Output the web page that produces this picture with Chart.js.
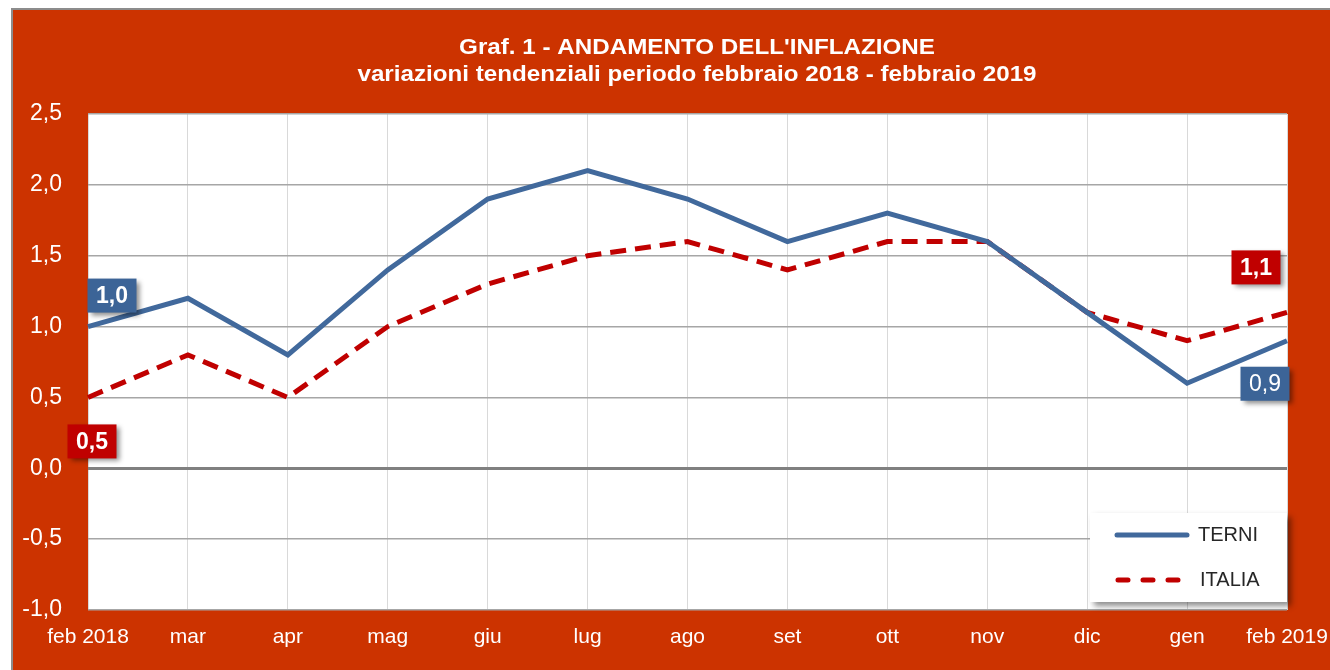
<!DOCTYPE html>
<html>
<head>
<meta charset="utf-8">
<script src="https://cdn.jsdelivr.net/npm/chart.js@4.4.0/dist/chart.umd.min.js"></script>
<style>
    html, body { margin: 0; padding: 0; background: #fff; }
    #wrap { width: 1330px; height: 670px; }
</style>
</head>
<body>
<div id="wrap"><canvas id="inflChart" width="1330" height="670"></canvas></div>
<script>
// Dati
const mesi = ['feb 2018', 'mar', 'apr', 'mag', 'giu', 'lug', 'ago', 'set', 'ott', 'nov', 'dic', 'gen', 'feb 2019'];
const terni = [1.0, 1.2, 0.8, 1.4, 1.9, 2.1, 1.9, 1.6, 1.8, 1.6, 1.1, 0.6, 0.9];
const italia = [0.5, 0.8, 0.5, 1.0, 1.3, 1.5, 1.6, 1.4, 1.6, 1.6, 1.1, 0.9, 1.1];
const yTicks = [-1.0, -0.5, 0.0, 0.5, 1.0, 1.5, 2.0, 2.5];
const titolo = ["Graf. 1 - ANDAMENTO DELL'INFLAZIONE", 'variazioni tendenziali periodo febbraio 2018 - febbraio 2019'];

const BLU = '#41699C';
const ROSSO = '#C00000';
const SFONDO = '#CC3300';
const FONT = '"Liberation Sans", Arial, sans-serif';

function fmt(v) {
    return v.toFixed(1).replace('.', ',');
}

// sfondo, bordo e area bianca
const sfondoPlugin = {
    id: 'sfondo',
    beforeDraw(chart) {
        const ctx = chart.ctx;
        const a = chart.chartArea;
        ctx.save();
        ctx.fillStyle = '#fff';
        ctx.fillRect(0, 0, chart.width, chart.height);
        ctx.fillStyle = '#8c8c8c';
        ctx.fillRect(11, 8, chart.width - 11, chart.height - 8);
        ctx.fillStyle = SFONDO;
        ctx.fillRect(13, 10, chart.width - 13, chart.height - 10);
        ctx.fillStyle = '#fff';
        ctx.fillRect(a.left, a.top, a.right - a.left, a.bottom - a.top);

        // titolo (leggermente allargato in orizzontale)
        ctx.fillStyle = '#fff';
        ctx.font = 'bold 22px ' + FONT;
        ctx.textAlign = 'center';
        ctx.textBaseline = 'middle';
        ctx.translate(697, 0);
        ctx.scale(1.1, 1);
        ctx.fillText(titolo[0], 0, 48);
        ctx.fillText(titolo[1], 0, 75);
        ctx.restore();
    }
};

// etichette dei valori (primo e ultimo punto)
const etichette = [
    { ds: 0, idx: 0, dx: 24, dy: -31, colore: '#3C6497', bold: true },
    { ds: 1, idx: 0, dx: 4, dy: 44, colore: ROSSO, bold: true },
    { ds: 1, idx: 12, dx: -31, dy: -45, colore: ROSSO, bold: true },
    { ds: 0, idx: 12, dx: -22, dy: 43, colore: '#3C6497', bold: false }
];

const etichettePlugin = {
    id: 'etichette',
    afterDatasetsDraw(chart) {
        const ctx = chart.ctx;
        etichette.forEach(e => {
            const pt = chart.getDatasetMeta(e.ds).data[e.idx];
            const val = chart.data.datasets[e.ds].data[e.idx];
            const cx = pt.x + e.dx;
            const cy = pt.y + e.dy;
            const w = 49, h = 34;
            ctx.save();
            ctx.shadowColor = 'rgba(0,0,0,0.45)';
            ctx.shadowBlur = 5;
            ctx.shadowOffsetX = 3;
            ctx.shadowOffsetY = 3;
            ctx.fillStyle = e.colore;
            ctx.fillRect(cx - w / 2, cy - h / 2, w, h);
            ctx.restore();
            ctx.save();
            ctx.fillStyle = '#fff';
            ctx.font = (e.bold ? 'bold ' : '') + '23px ' + FONT;
            ctx.textAlign = 'center';
            ctx.textBaseline = 'middle';
            ctx.fillText(fmt(val), cx, cy + 1);
            ctx.restore();
        });
    }
};

// legenda
const legendaPlugin = {
    id: 'legenda',
    afterDraw(chart) {
        const ctx = chart.ctx;
        const x = 1090, y = 513, w = 197, h = 89;
        ctx.save();
        ctx.shadowColor = 'rgba(0,0,0,0.45)';
        ctx.shadowBlur = 6;
        ctx.shadowOffsetX = 4;
        ctx.shadowOffsetY = 4;
        ctx.fillStyle = '#fff';
        ctx.fillRect(x, y, w, h);
        ctx.restore();

        ctx.save();
        ctx.lineWidth = 5;
        ctx.lineCap = 'round';
        ctx.strokeStyle = BLU;
        ctx.beginPath();
        ctx.moveTo(1117, 535);
        ctx.lineTo(1187, 535);
        ctx.stroke();
        ctx.strokeStyle = ROSSO;
        ctx.setLineDash([10, 15]);
        ctx.beginPath();
        ctx.moveTo(1118, 580);
        ctx.lineTo(1187, 580);
        ctx.stroke();
        ctx.setLineDash([]);
        ctx.fillStyle = '#262626';
        ctx.font = '20px ' + FONT;
        ctx.textAlign = 'left';
        ctx.textBaseline = 'middle';
        ctx.fillText('TERNI', 1198, 535);
        ctx.fillText('ITALIA', 1200, 580);
        ctx.restore();
    }
};

const ctx = document.getElementById('inflChart').getContext('2d');

new Chart(ctx, {
    type: 'line',
    data: {
        labels: mesi,
        datasets: [
            {
                label: 'TERNI',
                data: terni,
                borderColor: BLU,
                borderWidth: 5,
                pointRadius: 0,
                tension: 0,
                borderJoinStyle: 'miter'
            },
            {
                label: 'ITALIA',
                data: italia,
                borderColor: ROSSO,
                borderWidth: 5,
                borderDash: [16, 9],
                pointRadius: 0,
                tension: 0
            }
        ]
    },
    options: {
        responsive: false,
        devicePixelRatio: 1,
        animation: false,
        layout: {
            padding: { left: 0, top: 114, right: 43, bottom: 0 }
        },
        plugins: {
            legend: { display: false },
            title: { display: false },
            tooltip: { enabled: false }
        },
        scales: {
            x: {
                offset: false,
                grid: {
                    color: '#D9D9D9',
                    lineWidth: 1,
                    drawTicks: false
                },
                border: { display: false },
                ticks: {
                    color: '#fff',
                    padding: 15,
                    maxRotation: 0,
                    autoSkip: false,
                    font: { size: 21, family: FONT }
                },
                afterFit(scale) {
                    scale.height = 60;
                    scale.paddingLeft = 0;
                    scale.paddingRight = 0;
                }
            },
            y: {
                min: -1,
                max: 2.5,
                afterBuildTicks(scale) {
                    scale.ticks = yTicks.map(v => ({ value: v }));
                },
                grid: {
                    color: c => c.tick.value === 0 ? '#808080' : '#A6A6A6',
                    lineWidth: c => c.tick.value === 0 ? 3 : 1.5,
                    drawTicks: false
                },
                border: { display: false },
                ticks: {
                    color: '#fff',
                    padding: 26,
                    font: { size: 23, family: FONT },
                    callback: v => fmt(v)
                },
                afterFit(scale) {
                    scale.width = 88;
                }
            }
        }
    },
    plugins: [sfondoPlugin, etichettePlugin, legendaPlugin]
});
</script>
</body>
</html>
